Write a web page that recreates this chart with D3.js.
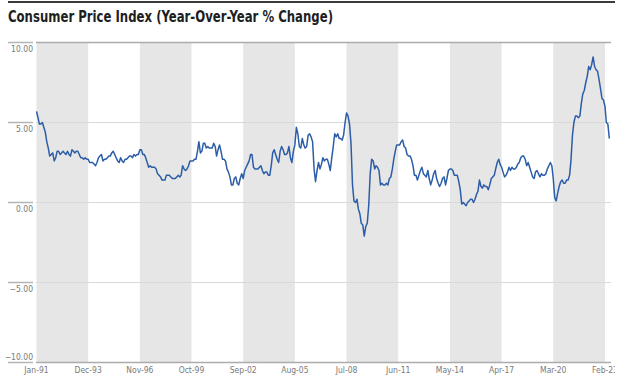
<!DOCTYPE html>
<html>
<head>
<meta charset="utf-8">
<script src="https://cdn.jsdelivr.net/npm/d3@7"></script>
<style>
  body { margin: 0; background: #fff; }
  svg { display: block; overflow: hidden; }
</style>
</head>
<body>
<div id="chart"></div>
<script>
// CPI year-over-year % change, monthly from Jan-91 to May-23
var startMonth = new Date(1991, 0, 1);
var cpiYoY = [
  5.7, 5.3, 4.9, 4.9, 5.0, 4.7, 4.4, 3.8, 3.4, 2.9, 3.0, 3.1,
  2.6, 2.8, 3.2, 3.2, 3.0, 3.1, 3.2, 3.1, 3.0, 3.2, 3.0, 2.9,
  3.3, 3.2, 3.1, 3.2, 3.2, 3.0, 2.8, 2.8, 2.7, 2.8, 2.7, 2.7,
  2.5, 2.5, 2.5, 2.4, 2.3, 2.5, 2.8, 2.9, 3.0, 2.6, 2.7, 2.7,
  2.8, 2.9, 2.9, 3.1, 3.2, 3.0, 2.8, 2.6, 2.5, 2.8, 2.6, 2.5,
  2.7, 2.7, 2.8, 2.9, 2.9, 2.8, 3.0, 2.9, 3.0, 3.0, 3.3, 3.3,
  3.0, 3.0, 2.8, 2.5, 2.2, 2.3, 2.2, 2.2, 2.2, 2.1, 1.8, 1.7,
  1.6, 1.4, 1.4, 1.4, 1.7, 1.7, 1.7, 1.6, 1.5, 1.5, 1.5, 1.6,
  1.7, 1.6, 1.7, 2.3, 2.1, 2.0, 2.1, 2.3, 2.6, 2.6, 2.6, 2.7,
  2.7, 3.2, 3.8, 3.1, 3.2, 3.7, 3.7, 3.4, 3.5, 3.4, 3.4, 3.4,
  3.7, 3.5, 2.9, 3.3, 3.6, 3.2, 2.7, 2.7, 2.6, 2.1, 1.9, 1.6,
  1.1, 1.1, 1.5, 1.6, 1.2, 1.1, 1.5, 1.8, 1.5, 2.0, 2.2, 2.4,
  2.6, 3.0, 3.0, 2.2, 2.1, 2.1, 2.1, 2.2, 2.3, 2.0, 1.8, 1.9,
  1.9, 1.7, 1.7, 2.3, 3.1, 3.3, 3.0, 2.7, 2.5, 3.2, 3.5, 3.3,
  3.0, 3.0, 3.1, 3.5, 2.8, 2.5, 3.2, 3.6, 4.7, 4.3, 3.5, 3.4,
  4.0, 3.6, 3.4, 3.5, 4.2, 4.3, 4.1, 3.8, 2.1, 1.3, 2.0, 2.5,
  2.1, 2.4, 2.8, 2.6, 2.7, 2.7, 2.4, 2.0, 2.8, 3.5, 4.3, 4.1,
  4.3, 4.0, 4.0, 3.9, 4.2, 5.0, 5.6, 5.4, 4.9, 3.7, 1.1, 0.1,
  0.0, 0.2, -0.4, -0.7, -1.3, -1.4, -2.1, -1.5, -1.3, -0.2, 1.8, 2.7,
  2.6, 2.1, 2.3, 2.2, 2.0, 1.1, 1.2, 1.1, 1.1, 1.2, 1.1, 1.5,
  1.6, 2.1, 2.7, 3.2, 3.6, 3.6, 3.6, 3.8, 3.9, 3.5, 3.4, 3.0,
  2.9, 2.9, 2.7, 2.3, 1.7, 1.7, 1.4, 1.7, 2.0, 2.2, 1.8, 1.7,
  1.6, 2.0, 1.5, 1.1, 1.4, 1.8, 2.0, 1.5, 1.2, 1.0, 1.2, 1.5,
  1.6, 1.1, 1.5, 2.0, 2.1, 2.1, 2.0, 1.7, 1.7, 1.7, 1.3, 0.8,
  -0.1, 0.0, -0.1, -0.2, 0.0, 0.1, 0.2, 0.2, 0.0, 0.2, 0.5, 0.7,
  1.4, 1.0, 0.9, 1.1, 1.0, 1.0, 0.8, 1.1, 1.5, 1.6, 1.7, 2.1,
  2.5, 2.7, 2.4, 2.2, 1.9, 1.6, 1.7, 1.9, 2.2, 2.0, 2.2, 2.1,
  2.1, 2.2, 2.4, 2.5, 2.8, 2.9, 2.9, 2.7, 2.3, 2.5, 2.2, 1.9,
  1.6, 1.5, 1.9, 2.0, 1.8, 1.6, 1.8, 1.7, 1.7, 1.8, 2.1, 2.3,
  2.5, 2.3, 1.5, 0.3, 0.1, 0.6, 1.0, 1.3, 1.4, 1.2, 1.2, 1.4,
  1.4, 1.7, 2.6, 4.2, 5.0, 5.4, 5.4, 5.3, 5.4, 6.2, 6.8, 7.0,
  7.5, 7.9, 8.5, 8.3, 8.6, 9.1, 8.5, 8.3, 8.2, 7.7, 7.1, 6.5,
  6.4, 6.0, 5.0, 4.9, 4.0
];

// x tick labels (every 35 months)
var xTickLabels = ["Jan-91", "Dec-93", "Nov-96", "Oct-99", "Sep-02", "Aug-05",
                   "Jul-08", "Jun-11", "May-14", "Apr-17", "Mar-20", "Feb-23"];
var yTicks = [10, 5, 0, -5, -10];

var w = 615, h = 377;
var title = "Consumer Price Index (Year-Over-Year % Change)";
var parseTick = d3.timeParse("%b-%y");
var tickDates = xTickLabels.map(d => parseTick(d));
var data = cpiYoY.map((v, i) => ({date: d3.timeMonth.offset(startMonth, i), value: v}));

var svg = d3.select("#chart").append("svg")
  .attr("width", w)
  .attr("height", h);

var xScale = d3.scaleTime()
  .domain([tickDates[0], tickDates[tickDates.length - 1]])
  .range([36.5, 605]);

var yScale = d3.scaleLinear()
  .domain([-10, 10])
  .range([362.5, 42.5]);

var plotRight = 611;

// top rule + title
svg.append("line")
  .attr("x1", 8).attr("x2", 615)
  .attr("y1", 2).attr("y2", 2)
  .attr("stroke", "#3a3a3a")
  .attr("stroke-width", 2);

svg.append("text")
  .text(title)
  .attr("x", 8)
  .attr("y", 22)
  .attr("font-family", "'Liberation Sans Narrow', 'DejaVu Sans Condensed', 'Roboto', sans-serif")
  .attr("font-weight", "bold")
  .attr("font-size", 15.5)
  .attr("fill", "#1e1e1e")
  .attr("textLength", 325)
  .attr("lengthAdjust", "spacingAndGlyphs");

// shaded bands between alternating tick labels
var bands = d3.range(0, tickDates.length - 1, 2).map(i => [tickDates[i], tickDates[i + 1]]);
svg.append("g").selectAll("rect")
  .data(bands)
  .enter().append("rect")
  .attr("x", d => xScale(d[0]))
  .attr("width", d => xScale(d[1]) - xScale(d[0]))
  .attr("y", yScale(10))
  .attr("height", yScale(-10) - yScale(10))
  .attr("fill", "#e6e6e6");

// gridlines
svg.append("g").selectAll("line")
  .data(yTicks)
  .enter().append("line")
  .attr("x1", 36).attr("x2", plotRight)
  .attr("y1", d => yScale(d)).attr("y2", d => yScale(d))
  .attr("stroke", d => (d === 10 || d === -10) ? "#acacac" : "#d9d9d9")
  .attr("stroke-width", d => (d === 10 || d === -10) ? 1.5 : 1);

// y axis labels with short rule above each
var yAxis = svg.append("g");
yAxis.selectAll("line")
  .data(yTicks)
  .enter().append("line")
  .attr("x1", 8).attr("x2", 33)
  .attr("y1", d => yScale(d)).attr("y2", d => yScale(d))
  .attr("stroke", "#b4b4b4")
  .attr("stroke-width", 1.5);
yAxis.selectAll("text")
  .data(yTicks)
  .enter().append("text")
  .text(d => d3.format(".2f")(d).replace("-", "\u2212"))
  .attr("x", 33)
  .attr("y", d => d === -10 ? yScale(d) - 2.5 : yScale(d) + 9.5)
  .attr("text-anchor", "end")
  .attr("font-family", "'Liberation Sans Narrow', 'DejaVu Sans Condensed', sans-serif")
  .attr("font-size", 8.5)
  .attr("fill", "#7a7a7a");

// x axis labels
svg.append("g").selectAll("text")
  .data(tickDates)
  .enter().append("text")
  .text((d, i) => xTickLabels[i])
  .attr("x", d => xScale(d))
  .attr("y", 372.5)
  .attr("text-anchor", "middle")
  .attr("font-family", "'Liberation Sans Narrow', 'DejaVu Sans Condensed', sans-serif")
  .attr("font-size", 8.5)
  .attr("fill", "#7a7a7a");

// the CPI line
var line = d3.line()
  .x(d => xScale(d.date))
  .y(d => yScale(d.value));

svg.append("path")
  .datum(data)
  .attr("d", line)
  .attr("fill", "none")
  .attr("stroke", "#2b5da8")
  .attr("stroke-width", 1.5)
  .attr("stroke-linejoin", "round");
</script>
</body>
</html>
